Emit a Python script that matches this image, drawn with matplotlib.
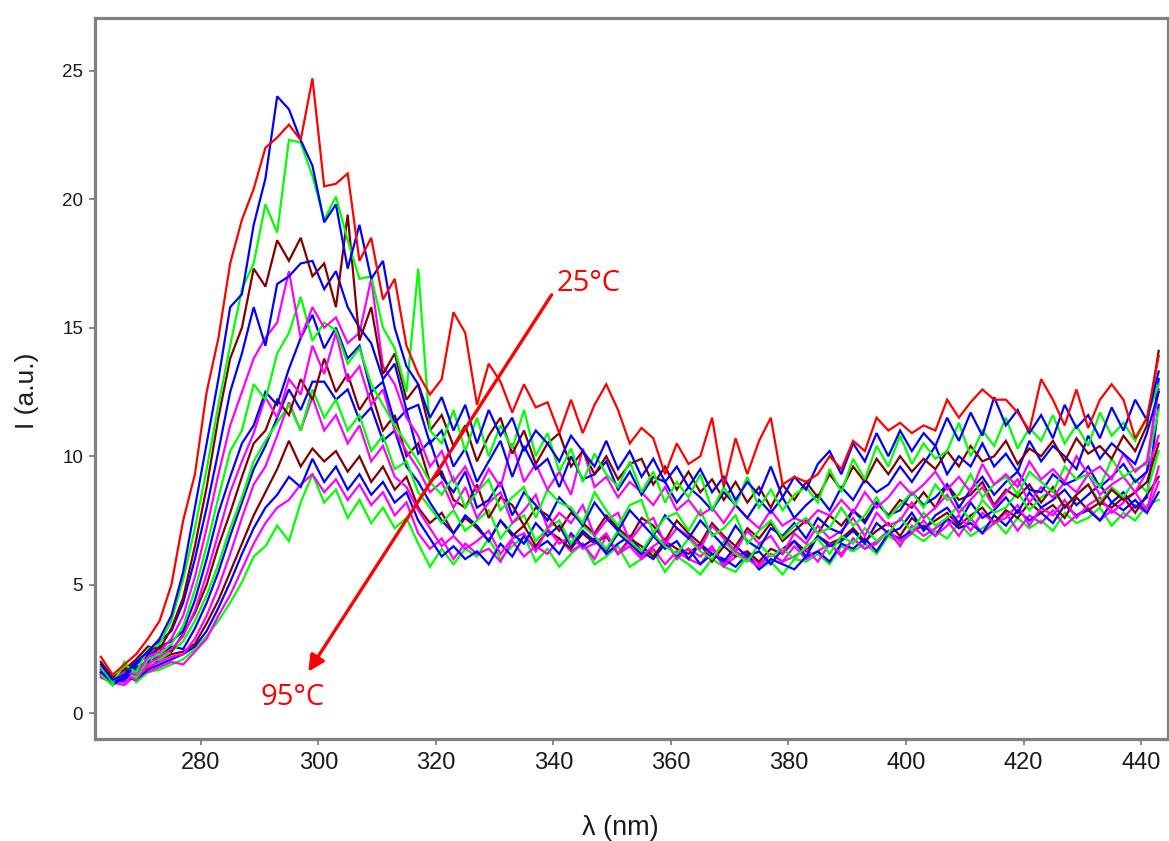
import matplotlib
matplotlib.use("Agg")
import matplotlib.pyplot as plt

# wavelength grid (nm)
wavelength = list(range(263, 444, 2))

s01 = [2.2, 1.5, 1.9, 2.3, 2.9, 3.6, 5.0, 7.5, 9.3, 12.5,
       14.6, 17.5, 19.2, 20.4, 22.0, 22.4, 22.9, 22.3, 24.7, 20.5,
       20.6, 21.0, 17.6, 18.5, 16.1, 16.9, 14.3, 13.2, 12.4, 13.0,
       15.6, 14.8, 12.0, 13.6, 12.9, 11.7, 12.8, 11.9, 12.1, 10.9,
       12.2, 10.9, 12.0, 12.8, 11.8, 10.5, 11.1, 10.7, 9.3, 10.5,
       9.7, 10.0, 11.5, 8.8, 10.7, 9.3, 10.6, 11.5, 8.9, 9.2,
       9.0, 9.3, 10.0, 9.5, 10.6, 10.2, 11.5, 11.0, 11.3, 10.9,
       11.2, 11.0, 12.2, 11.5, 12.1, 12.6, 12.2, 12.2, 11.7, 11.0,
       13.0, 12.2, 11.2, 12.6, 11.1, 12.2, 12.8, 12.2, 10.7, 11.5,
       13.9]
s02 = [1.9, 1.3, 1.5, 2.0, 2.4, 2.9, 3.8, 5.5, 8.0, 10.5,
       13.0, 15.8, 16.3, 19.0, 20.8, 24.0, 23.5, 22.3, 21.3, 19.1,
       19.8, 17.3, 19.0, 16.9, 17.6, 15.0, 13.5, 12.8, 11.5, 12.3,
       11.0, 12.0, 10.5, 11.8, 10.8, 11.5, 10.2, 11.0, 10.5, 9.8,
       10.8, 10.2, 9.6, 10.6, 9.5, 10.2, 9.2, 9.9, 9.0, 9.6,
       8.8, 9.5, 8.6, 9.2, 8.3, 9.0, 8.5, 9.6, 8.4, 9.2,
       8.7, 9.7, 10.2, 9.3, 10.5, 9.8, 10.9, 10.0, 11.0, 10.2,
       10.9, 10.4, 11.5, 10.6, 11.7, 10.8, 12.3, 11.2, 11.8, 10.9,
       11.6, 10.7, 12.0, 11.1, 11.6, 10.7, 11.9, 11.0, 12.2, 11.4,
       13.3]
s03 = [1.8, 1.2, 1.9, 1.6, 2.5, 2.7, 3.6, 5.2, 7.2, 9.5,
       12.0, 14.3, 16.5, 17.5, 19.8, 18.7, 22.3, 22.2, 20.9, 19.2,
       20.1, 18.4, 16.9, 17.0, 15.0, 14.2, 12.5, 17.3, 11.0, 10.5,
       11.8, 10.2, 11.5, 10.0, 11.2, 10.3, 11.8, 10.0, 10.9, 9.4,
       10.3, 9.0, 10.1, 9.3, 8.8, 9.8, 8.6, 9.4, 8.2, 9.0,
       8.4, 9.3, 7.9, 8.8, 8.1, 9.2, 8.0, 8.7, 7.9, 8.5,
       8.8, 8.2, 9.5, 8.6, 9.9, 9.1, 10.4, 9.6, 10.8, 9.7,
       10.5, 9.9, 10.2, 11.3, 10.0, 11.0, 10.4, 11.5, 10.3, 11.1,
       10.6, 11.6, 10.5, 11.2, 10.4, 11.7, 10.8, 11.3, 10.6, 11.5,
       12.8]
s04 = [2.0, 1.4, 1.7, 2.1, 2.6, 2.5, 3.3, 4.5, 6.5, 8.8,
       11.5, 13.8, 15.0, 17.3, 16.6, 18.4, 17.6, 18.5, 17.0, 17.5,
       15.8, 19.4, 14.5, 15.8, 13.2, 14.0, 12.2, 12.8, 11.0, 11.6,
       10.4, 11.2, 9.8, 10.8, 11.5, 10.1, 11.0, 9.7, 10.5, 10.9,
       9.6, 10.2, 9.3, 10.0, 9.1, 9.7, 9.9, 8.9, 9.6, 8.7,
       9.4, 8.6, 9.1, 8.3, 9.0, 8.2, 8.8, 8.0, 8.9, 8.3,
       9.0, 8.4, 9.3, 8.7, 9.6, 9.0, 9.9, 9.3, 10.0, 9.4,
       9.9, 9.5, 10.2, 9.6, 10.4, 9.8, 10.0, 10.6, 9.7, 10.3,
       10.0, 10.6, 9.8, 10.7, 10.1, 10.4, 9.9, 10.8, 10.2, 11.2,
       14.1]
s05 = [1.6, 1.2, 1.4, 1.9, 2.3, 2.8, 3.2, 4.3, 6.0, 8.0,
       10.2, 12.5, 14.0, 15.8, 14.3, 16.7, 17.0, 17.5, 17.6, 16.5,
       17.2, 15.8, 15.0, 14.4, 13.0, 13.6, 11.8, 12.0, 10.5, 11.0,
       9.6, 10.3, 9.0, 9.8, 10.6, 9.2, 10.4, 9.5, 9.9, 8.8,
       10.0, 9.1, 9.3, 9.8, 8.7, 9.4, 8.5, 9.2, 9.0, 8.2,
       8.8, 8.4, 7.9, 8.6, 8.1, 7.6, 8.3, 7.8, 8.4, 7.6,
       8.1, 8.5, 7.9, 8.8, 8.3, 9.1, 8.6, 8.9, 9.6, 9.0,
       9.7, 10.4, 9.3, 10.0, 9.6, 10.5, 9.6, 10.1, 9.4, 10.6,
       9.8, 10.4, 10.0, 9.5, 10.8, 9.9, 10.5, 10.1, 9.7, 10.9,
       12.5]
s06 = [1.7, 1.3, 1.6, 1.5, 2.2, 2.4, 2.9, 3.8, 5.3, 7.2,
       9.3, 11.2, 12.5, 13.8, 14.6, 15.2, 17.2, 14.6, 15.8, 15.0,
       15.4, 14.4, 14.8, 16.9, 13.5, 12.8, 11.5, 10.8, 9.6, 10.2,
       9.0, 9.6, 8.6, 9.5, 8.8, 10.5, 9.0, 9.7, 8.7, 9.4,
       8.5, 10.3, 8.8, 9.2, 8.4, 9.0, 8.6, 8.1, 8.8, 7.9,
       8.3, 7.7, 8.0, 7.4, 8.1, 7.6, 7.2, 7.9, 7.3, 7.6,
       7.4, 7.9, 7.7, 8.3, 7.8, 8.6, 8.0, 8.4, 9.0, 8.5,
       8.9, 9.4, 8.7, 9.2, 8.6, 9.7, 8.9, 9.3, 8.8, 9.8,
       9.1, 9.5, 9.0, 10.0, 9.3, 9.6, 9.1, 10.1, 9.4, 9.8,
       12.6]
s07 = [1.5, 1.1, 2.0, 1.4, 2.1, 2.3, 2.7, 3.4, 4.8, 6.5,
       8.4, 10.2, 11.0, 12.8, 12.2, 14.0, 14.8, 16.2, 14.5, 15.2,
       14.9, 13.6, 14.2, 12.8, 12.0, 11.2, 10.5, 9.8, 9.0, 8.5,
       9.2, 8.0, 8.6, 9.1, 7.9, 8.4, 8.8, 7.6, 8.7, 8.2,
       8.0, 7.4, 8.6, 7.9, 7.3, 8.1, 8.3, 7.0, 7.6, 7.8,
       7.1, 7.9, 6.9, 7.2, 7.7, 6.6, 7.1, 7.5, 6.8, 7.3,
       7.6, 7.0, 7.2, 8.0, 7.3, 7.7, 8.4, 7.6, 8.1, 8.6,
       8.0, 8.9, 8.3, 8.5, 9.3, 8.4, 8.9, 9.2, 8.5, 9.4,
       9.0, 8.6, 9.6, 9.1, 9.3, 8.8, 9.9, 9.2, 9.5, 9.7,
       11.8]
s08 = [1.6, 1.2, 1.3, 1.8, 2.0, 2.6, 2.8, 3.2, 4.4, 6.0,
       7.8, 9.2, 10.5, 11.2, 12.5, 12.0, 13.4, 14.6, 15.5, 14.2,
       15.0, 13.8, 14.3, 12.5, 12.9, 11.3, 11.8, 10.1, 10.6, 9.2,
       8.6, 9.4, 8.0, 8.3, 9.0, 7.7, 8.6, 8.1, 7.5, 8.4,
       7.9, 7.3, 8.2, 7.6, 7.1, 7.9, 7.4, 6.9, 7.7, 7.2,
       6.8, 7.5, 7.0, 6.5, 7.3, 6.7, 6.4, 7.2, 6.9, 7.4,
       6.8, 7.6, 7.2, 7.0, 7.9, 7.4, 8.2, 7.7, 7.9, 8.6,
       8.1, 8.4, 8.9, 8.0, 8.7, 9.2, 8.5, 9.0, 9.4, 8.7,
       8.6, 9.3, 8.9, 9.1, 9.6, 8.8, 9.2, 9.7, 9.0, 9.4,
       13.0]
s09 = [1.4, 1.2, 1.5, 1.3, 1.9, 2.2, 2.5, 3.0, 4.0, 5.4,
       7.0, 8.6, 9.8, 10.9, 12.3, 11.5, 13.0, 12.4, 14.3, 13.2,
       14.8, 12.9, 13.5, 12.0, 12.6, 11.0, 10.2, 9.5, 8.6, 9.0,
       8.0, 8.8, 7.6, 8.2, 8.6, 7.4, 7.9, 8.5, 7.2, 7.8,
       7.4, 8.1, 6.9, 7.5, 7.8, 6.7, 7.3, 7.6, 6.6, 7.2,
       6.9, 6.4, 7.3, 6.8, 6.3, 7.1, 6.6, 6.9, 6.2, 7.0,
       6.6, 7.3, 6.8, 7.1, 7.6, 6.9, 7.8, 7.3, 7.5, 8.2,
       7.6, 8.0, 8.5, 7.8, 8.3, 8.8, 8.0, 8.6, 9.1, 8.2,
       8.8, 8.4, 9.0, 8.6, 9.3, 8.5, 8.9, 9.2, 8.6, 9.4,
       10.8]
s10 = [1.8, 1.3, 1.6, 2.0, 2.2, 2.6, 2.4, 3.1, 3.9, 5.0,
       6.5, 7.8, 9.2, 10.5, 11.0, 12.2, 11.6, 13.0, 12.2, 13.8,
       12.5, 13.2, 11.8, 12.5, 11.0, 11.6, 10.0, 10.5, 9.0, 9.4,
       8.3, 8.0, 8.9, 7.6, 8.4, 8.1, 7.3, 8.0, 7.7, 7.1,
       7.8, 7.4, 7.0, 7.7, 7.2, 6.8, 7.6, 7.3, 6.7, 7.5,
       7.0, 6.6, 7.4, 6.9, 6.5, 7.2, 6.8, 7.4, 6.7, 7.1,
       7.5, 7.0, 7.7, 7.3, 7.9, 7.5, 8.2, 7.7, 8.3, 8.0,
       8.6, 8.0, 8.9, 8.3, 8.5, 9.0, 8.1, 8.7, 8.4, 8.9,
       8.2, 8.8, 8.0, 8.5, 8.9, 8.1, 8.7, 8.3, 8.6, 9.0,
       10.5]
s11 = [1.6, 1.1, 1.8, 1.3, 2.0, 2.1, 2.4, 2.8, 3.6, 4.6,
       5.8, 7.2, 8.4, 9.8, 10.6, 11.3, 12.0, 11.0, 12.6, 11.5,
       12.2, 11.0, 11.6, 10.2, 10.8, 9.5, 9.8, 8.6, 8.0, 7.4,
       7.9, 7.1, 7.5, 7.9, 6.8, 7.4, 7.7, 6.7, 7.2, 7.5,
       6.6, 7.3, 6.9, 6.4, 7.1, 6.7, 6.3, 7.0, 6.5, 6.2,
       6.8, 6.3, 6.0, 6.7, 6.2, 5.9, 6.6, 6.1, 6.4, 6.0,
       6.5, 6.8, 6.2, 6.9, 6.6, 7.2, 6.7, 7.0, 7.6, 7.1,
       7.8, 7.3, 7.6, 8.1, 7.5, 8.3, 7.8, 8.0, 8.6, 7.9,
       8.4, 8.7, 8.0, 8.5, 8.9, 8.2, 8.8, 8.4, 9.1, 8.6,
       10.2]
s12 = [1.5, 1.2, 1.4, 1.7, 1.9, 2.3, 2.6, 2.5, 3.3, 4.3,
       5.5, 6.9, 8.2, 9.5, 10.4, 11.5, 12.6, 11.8, 12.9, 12.9,
       12.2, 12.6, 11.4, 11.9, 10.6, 11.0, 9.6, 9.0, 8.2, 7.5,
       7.0, 7.7, 7.3, 6.7, 7.5, 7.0, 6.6, 7.4, 6.9, 7.3,
       6.5, 7.1, 6.7, 6.3, 7.0, 6.6, 6.2, 6.9, 6.4, 6.7,
       6.0, 6.6, 6.2, 5.9, 6.5, 6.1, 6.3, 5.8, 6.4, 6.7,
       6.1, 6.9, 6.5, 6.7, 7.1, 6.6, 7.4, 7.0, 7.2, 7.8,
       7.1, 7.7, 8.0, 7.4, 8.2, 7.6, 7.9, 8.4, 7.8, 8.6,
       8.0, 8.3, 8.7, 8.1, 8.5, 8.9, 8.2, 8.6, 8.0, 8.4,
       12.0]
s13 = [1.6, 1.3, 1.2, 1.6, 1.8, 2.0, 2.2, 2.3, 2.9, 3.8,
       4.9, 6.2, 7.6, 8.9, 9.6, 10.8, 12.1, 11.0, 12.3, 11.0,
       11.6, 10.5, 11.2, 9.8, 10.4, 9.2, 8.8, 7.9, 7.2, 6.5,
       6.9, 6.4, 6.7, 7.1, 6.2, 6.8, 7.0, 6.3, 7.2, 6.6,
       6.9, 6.4, 6.6, 7.0, 6.2, 6.7, 6.1, 6.5, 6.8, 6.0,
       6.4, 6.1, 6.5, 5.8, 6.3, 6.0, 5.7, 6.2, 5.9, 6.1,
       6.4, 5.9, 6.6, 6.2, 6.8, 6.4, 6.6, 7.1, 6.7, 7.0,
       7.5, 6.9, 7.3, 7.7, 7.1, 7.8, 7.4, 7.6, 8.1, 7.3,
       8.0, 7.7, 8.3, 7.6, 8.1, 8.4, 7.8, 8.2, 8.6, 7.9,
       9.6]
s14 = [1.7, 1.3, 1.5, 1.8, 1.7, 2.1, 2.3, 2.4, 2.7, 3.5,
       4.4, 5.5, 6.6, 7.7, 8.6, 9.5, 10.6, 9.6, 10.3, 9.8,
       10.2, 9.4, 10.0, 9.0, 9.6, 8.7, 9.2, 8.0, 7.4, 7.8,
       7.0, 7.6, 7.2, 6.7, 7.5, 6.9, 7.3, 6.5, 7.1, 6.8,
       6.4, 7.0, 6.6, 6.9, 6.2, 6.8, 6.5, 6.1, 6.7, 6.4,
       6.2, 6.6, 5.9, 6.5, 6.1, 6.3, 5.9, 6.4, 6.2, 6.7,
       6.3, 6.9, 6.6, 6.8, 7.2, 6.7, 7.1, 7.4, 6.9, 7.6,
       7.2, 7.5, 7.8, 7.3, 7.7, 8.0, 7.4, 7.9, 7.6, 8.2,
       7.8, 8.1, 7.6, 8.4, 7.9, 8.2, 8.0, 8.4, 7.8, 8.5,
       9.2]
s15 = [1.5, 1.1, 1.4, 1.3, 1.7, 1.9, 2.1, 2.3, 2.6, 3.2,
       4.1, 5.1, 6.2, 7.2, 8.0, 8.5, 9.2, 8.8, 9.9, 9.0,
       9.6, 8.7, 9.3, 8.5, 9.0, 8.2, 8.6, 7.5, 6.8, 6.1,
       6.5, 6.0, 6.3, 5.8, 6.6, 6.1, 6.9, 6.4, 6.7, 6.2,
       7.0, 6.5, 6.8, 6.2, 6.6, 6.9, 6.3, 6.0, 6.6, 6.1,
       6.4, 5.8, 6.2, 6.0, 5.7, 6.2, 5.6, 6.0, 5.8, 5.6,
       6.1, 6.3, 5.9, 6.6, 6.4, 6.8, 6.3, 7.0, 6.8, 7.1,
       7.3, 6.9, 7.6, 7.2, 7.4, 7.0, 7.7, 7.3, 7.9, 7.5,
       7.8, 7.4, 8.1, 7.7, 7.9, 7.5, 8.2, 7.9, 8.3, 7.8,
       8.6]
s16 = [1.4, 1.2, 1.1, 1.5, 1.6, 1.8, 2.0, 1.9, 2.4, 2.9,
       3.8, 4.6, 5.6, 6.6, 7.4, 8.0, 8.3, 8.9, 9.3, 8.6,
       9.1, 8.3, 8.9, 8.1, 8.6, 7.7, 8.2, 7.0, 6.4, 6.8,
       6.0, 6.6, 6.2, 6.4, 5.9, 6.7, 6.1, 6.5, 6.2, 6.8,
       6.3, 6.6, 6.0, 6.9, 6.2, 6.5, 6.0, 6.4, 5.8, 6.3,
       6.0, 5.8, 6.4, 5.7, 6.1, 6.3, 5.8, 6.2, 5.9, 6.5,
       6.0, 6.3, 6.6, 6.1, 6.8, 6.4, 6.7, 7.1, 6.5, 7.3,
       6.9, 7.2, 7.5, 6.9, 7.6, 7.0, 7.4, 7.8, 7.1, 7.7,
       7.4, 7.9, 7.3, 7.7, 8.0, 7.5, 7.9, 7.6, 8.1, 7.8,
       9.0]
s17 = [1.5, 1.1, 1.9, 1.2, 1.6, 1.7, 1.9, 2.1, 2.5, 3.0,
       3.6, 4.3, 5.1, 6.1, 6.5, 7.3, 6.7, 8.2, 9.3, 8.2,
       8.7, 7.6, 8.3, 7.4, 8.0, 7.2, 7.6, 6.6, 5.7, 6.4,
       5.8, 6.4, 6.1, 6.8, 6.0, 6.5, 6.9, 5.9, 6.4, 5.7,
       6.2, 6.6, 5.8, 6.1, 6.5, 5.7, 6.0, 6.3, 5.5, 6.1,
       5.8, 5.4, 6.0, 5.7, 5.5, 6.1, 5.6, 5.9, 5.4, 6.0,
       5.9, 6.2, 5.8, 6.5, 6.3, 6.6, 6.2, 6.9, 6.6, 7.0,
       6.7, 7.1, 6.8, 7.4, 6.9, 7.2, 7.5, 7.0, 7.6, 7.2,
       7.5, 7.1, 7.8, 7.4, 7.6, 8.0, 7.3, 7.8, 7.5, 8.1,
       8.3]

series = [s01, s02, s03, s04, s05, s06, s07, s08, s09, s10,
          s11, s12, s13, s14, s15, s16, s17]
series_colors = ["#ff0000", "#0000ff", "#00ff00", "#800000", "#0000ff",
                 "#ff00ff", "#00ff00", "#0000ff", "#ff00ff", "#800000",
                 "#00ff00", "#0000ff", "#ff00ff", "#800000", "#0000ff",
                 "#ff00ff", "#00ff00"]

x_ticks = [280, 300, 320, 340, 360, 380, 400, 420, 440]
y_ticks = [0, 5, 10, 15, 20, 25]

label_top = "25°C"
label_bottom = "95°C"

W, H = 1169, 841
fig = plt.figure(figsize=(W / 100, H / 100), dpi=100)
ax = fig.add_axes([95 / W, 1 - 738.5 / H, (1167.5 - 95) / W, (738.5 - 17.7) / H])

for ys, c in reversed(list(zip(series, series_colors))):
    ax.plot(wavelength, ys, color=c, lw=1.6, solid_joinstyle="miter")

ax.set_xlim(262.0, 444.5)
ax.set_ylim(-0.98, 27.06)
ax.set_xticks(x_ticks)
ax.set_yticks(y_ticks)

frame_col = "#808080"
for sp in ax.spines.values():
    sp.set_color(frame_col)
    sp.set_linewidth(2.3)

ax.tick_params(axis="both", direction="out", length=4.5, width=1.3, color=frame_col)
ax.tick_params(axis="x", labelsize=17, pad=5, labelcolor="#1a1a1a")
ax.tick_params(axis="y", labelsize=13.5, pad=4, labelcolor="#1a1a1a")
for lab in ax.get_xticklabels() + ax.get_yticklabels():
    lab.set_family("Liberation Sans")

fig.text(27 / W, 1 - 391 / H, "I (a.u.)", rotation=90, ha="center", va="center",
         fontsize=19, family="Liberation Sans", color="#1a1a1a")
fig.text(620 / W, 1 - 828 / H, "λ (nm)", ha="center", va="center",
         fontsize=19.5, family="Liberation Sans", color="#1a1a1a")

ax.annotate("", xy=(298.3, 1.62), xytext=(339.7, 16.28),
            arrowprops=dict(arrowstyle="-|>", color="#ff0000", lw=2.4,
                            mutation_scale=24, shrinkA=0, shrinkB=0))
ax.text(340.6, 16.43, label_top, color="#ff0000", fontsize=21,
        family="Open Sans", ha="left", va="baseline")
ax.text(290.1, 0.32, label_bottom, color="#ff0000", fontsize=21,
        family="Open Sans", ha="left", va="baseline")

fig.savefig("out.png", dpi=100)
